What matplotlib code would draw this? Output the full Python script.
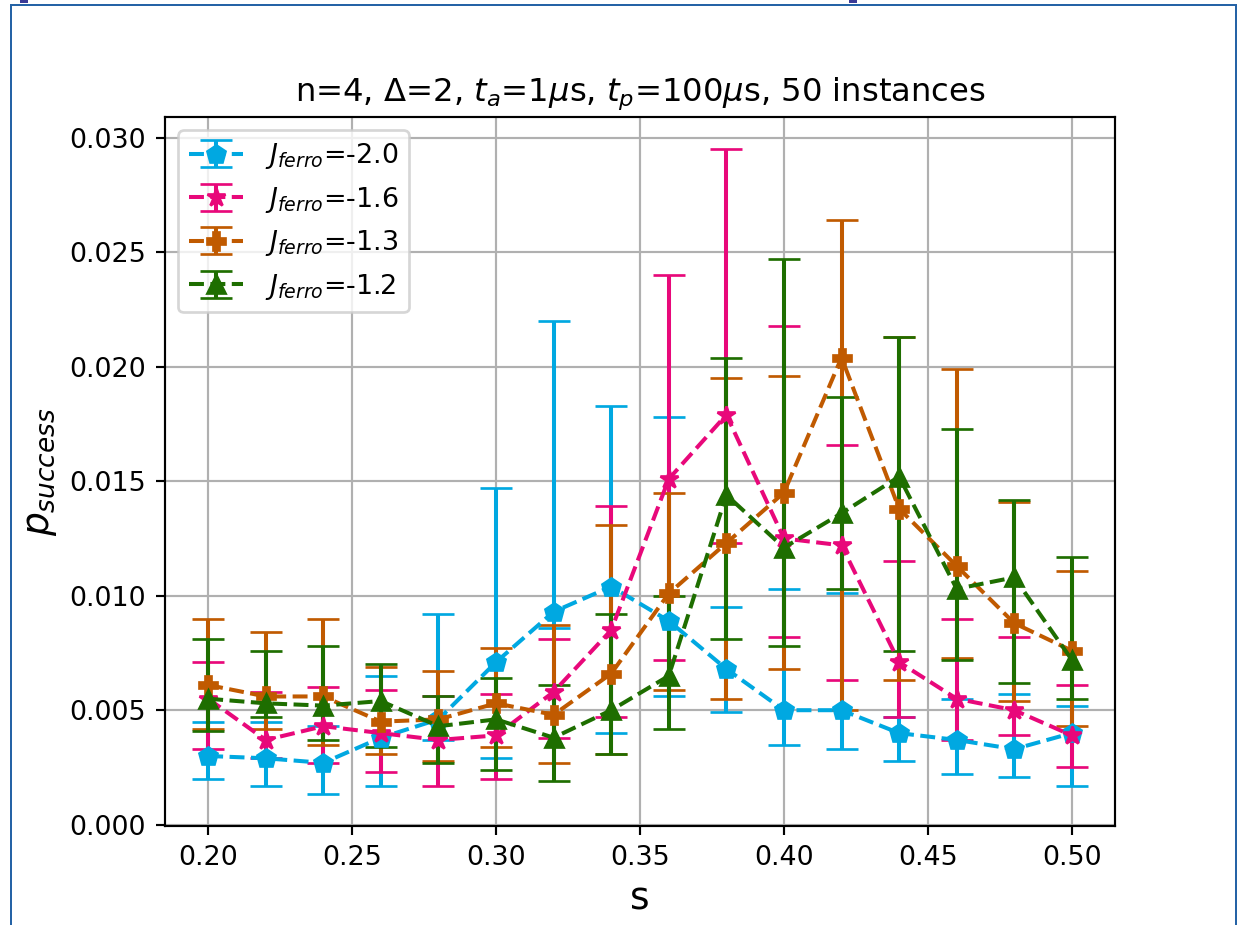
import matplotlib
matplotlib.use("Agg")
import matplotlib.pyplot as plt
import numpy as np
from matplotlib.patches import Rectangle

# annealing offset s
s = [0.20, 0.22, 0.24, 0.26, 0.28, 0.30, 0.32, 0.34,
     0.36, 0.38, 0.40, 0.42, 0.44, 0.46, 0.48, 0.50]

# J_ferro = -2.0
p_20 = [0.0030, 0.0029, 0.0027, 0.0038, 0.0046, 0.0071, 0.0093, 0.0104,
        0.0089, 0.0068, 0.0050, 0.0050, 0.0040, 0.0037, 0.0033, 0.0040]
hi_20 = [0.0045, 0.0045, 0.0043, 0.0065, 0.0092, 0.0147, 0.0220, 0.0183,
         0.0178, 0.0095, 0.0103, 0.0101, 0.0047, 0.0055, 0.0057, 0.0052]
lo_20 = [0.0020, 0.0017, 0.00135, 0.0017, 0.0037, 0.0029, 0.0086, 0.0040,
         0.0056, 0.0049, 0.0035, 0.0033, 0.0028, 0.0022, 0.0021, 0.0017]

# J_ferro = -1.6
p_16 = [0.0055, 0.0037, 0.0043, 0.0040, 0.0037, 0.0039, 0.0058, 0.0085,
        0.0151, 0.0179, 0.0125, 0.0122, 0.0071, 0.0055, 0.0050, 0.0039]
hi_16 = [0.0071, 0.0058, 0.0060, 0.0059, 0.0056, 0.0057, 0.0081, 0.0139,
         0.0240, 0.0295, 0.0218, 0.0166, 0.0115, 0.0090, 0.0082, 0.0061]
lo_16 = [0.0033, 0.0029, 0.0027, 0.0023, 0.0017, 0.0020, 0.0038, 0.0047,
         0.0072, 0.0123, 0.0082, 0.0063, 0.0047, 0.0037, 0.0039, 0.0025]

# J_ferro = -1.3
p_13 = [0.0061, 0.0056, 0.0056, 0.0045, 0.0046, 0.0053, 0.0048, 0.0066,
        0.0101, 0.0123, 0.0145, 0.0204, 0.0138, 0.0113, 0.0088, 0.0076]
hi_13 = [0.0090, 0.0084, 0.0090, 0.0069, 0.0067, 0.0077, 0.0087, 0.0131,
         0.0145, 0.0195, 0.0196, 0.0264, 0.0213, 0.0199, 0.0141, 0.0111]
lo_13 = [0.0042, 0.0042, 0.0035, 0.0031, 0.0028, 0.0034, 0.0027, 0.0031,
         0.0059, 0.0055, 0.0068, 0.0050, 0.0063, 0.0073, 0.0054, 0.0043]

# J_ferro = -1.2
p_12 = [0.0055, 0.0053, 0.0052, 0.0054, 0.0043, 0.0046, 0.0038, 0.0050,
        0.0065, 0.0144, 0.0121, 0.0136, 0.0152, 0.0103, 0.0108, 0.0072]
hi_12 = [0.0081, 0.0076, 0.0078, 0.0070, 0.0056, 0.0064, 0.0061, 0.0092,
         0.0100, 0.0204, 0.0247, 0.0187, 0.0213, 0.0173, 0.0142, 0.0117]
lo_12 = [0.0041, 0.0047, 0.0037, 0.0034, 0.0027, 0.0024, 0.0019, 0.0031,
         0.0042, 0.0081, 0.0078, 0.0103, 0.0076, 0.0072, 0.0062, 0.0055]

series = [
    ("-2.0", p_20, lo_20, hi_20, "#00a8e1", "p"),
    ("-1.6", p_16, lo_16, hi_16, "#e8087a", "*"),
    ("-1.3", p_13, lo_13, hi_13, "#c05a00", "P"),
    ("-1.2", p_12, lo_12, hi_12, "#1e6e00", "^"),
]

dpi = 193.75
fig = plt.figure(figsize=(1240 / dpi, 925 / dpi), dpi=dpi)
ax = fig.add_axes([165 / 1240, 1 - 826 / 925, 950 / 1240, 709 / 925])

for label, p, lo, hi, color, marker in series:
    p = np.array(p)
    yerr = [p - np.array(lo), np.array(hi) - p]
    ax.errorbar(s, p, yerr=yerr, fmt="--", marker=marker, color=color,
                markersize=7, capsize=6, label=r"$J_{ferro}$=" + label)

ax.grid(True)
ax.set_xlabel("s", fontsize=14)
ax.set_ylabel(r"$p_{success}$", fontsize=14)
ax.set_title(r"n=4, Δ=2, $t_a$=1$\mu$s, $t_p$=100$\mu$s, 50 instances")
ax.legend(loc="upper left")

# surrounding frame
lw = 2 / dpi * 72
fig.patches.append(Rectangle((10.7 / 1240, -0.05), (1236 - 10.7) / 1240, 1.05 - 5.3 / 925,
                             transform=fig.transFigure, fill=False,
                             edgecolor="#2563a6", linewidth=lw))
for x0 in (20, 849):
    fig.patches.append(Rectangle((x0 / 1240, 1 - 3 / 925), 8 / 1240, 3 / 925,
                                 transform=fig.transFigure, color="#3a3a96",
                                 linewidth=0))

fig.savefig("out.png", dpi=dpi)
